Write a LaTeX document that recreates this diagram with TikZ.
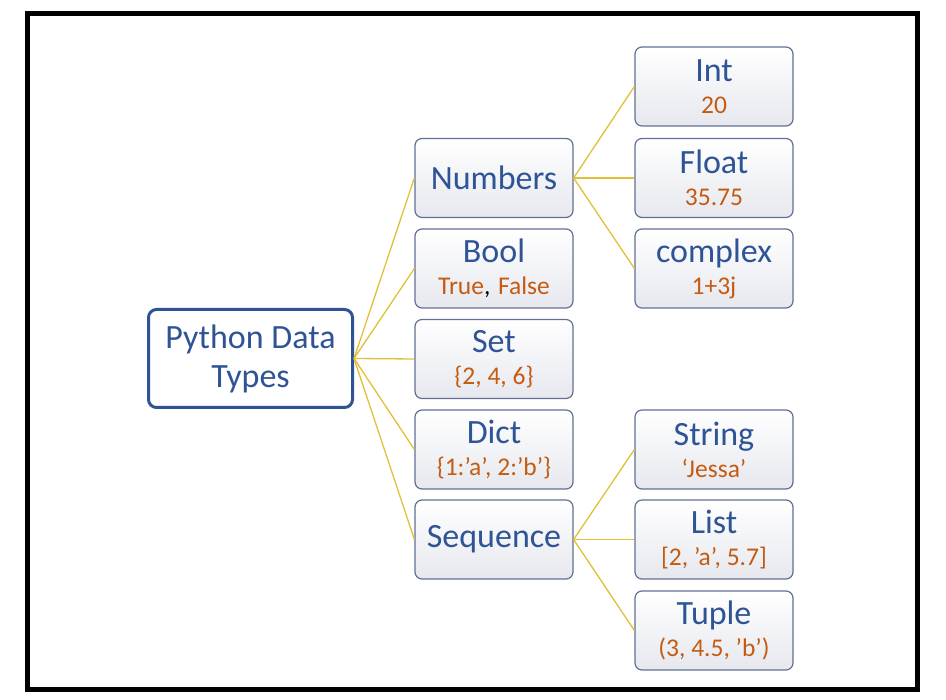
\documentclass[tikz,border=0pt]{standalone}
\usepackage{fontspec}
\setmainfont{Carlito}
\usepackage{tikz}
\definecolor{typeblue}{RGB}{47,84,150}
\definecolor{valorange}{RGB}{197,90,17}
\definecolor{linkgold}{RGB}{225,192,55}
\definecolor{boxline}{RGB}{98,112,150}
\definecolor{boxshade}{RGB}{230,232,238}
\newcommand{\tname}[1]{{\color{typeblue}#1}}
\newcommand{\tval}[1]{{\fontsize{25.5}{31}\selectfont\color{valorange}#1}}
\tikzset{
  typebox/.style={draw=boxline, line width=1.2pt, rounded corners=7pt,
    top color=white, middle color=white, bottom color=boxshade,
    minimum width=158pt, minimum height=79pt, align=center, inner sep=0pt,
    font=\fontsize{34}{32}\selectfont},
  rootbox/.style={draw=typeblue, line width=3pt, rounded corners=8pt,
    fill=white, minimum width=204pt, minimum height=98pt, align=center,
    inner sep=0pt, font=\fontsize{34}{39}\selectfont},
  link/.style={draw=linkgold, line width=1.3pt}
}
\begin{document}
\begin{tikzpicture}[x=1pt,y=-1pt]
\useasboundingbox (0,0) rectangle (946,700);
% frame:
\draw[line width=5pt] (27.5,13.5) rectangle (917.5,689.5);
% root:
\node[rootbox] (root) at (250.5,358.5) {\tname{Python Data}\\\tname{Types}};
% middle column:
\node[typebox] (numbers) at (494,178) {\tname{Numbers}};
\node[typebox] (bool) at (494,268.5) {\tname{Bool}\\\tval{True}{\fontsize{25.5}{31}\selectfont,} \tval{False}};
\node[typebox] (set) at (494,359) {\tname{Set}\\\tval{\{2, 4, 6\}}};
\node[typebox] (dict) at (494,449.5) {\tname{Dict}\\\tval{\{1:’a’, 2:’b’\}}};
\node[typebox] (sequence) at (494,539.5) {\tname{Sequence}};
% right column:
\node[typebox] (int) at (714,86.5) {\tname{Int}\\\tval{20}};
\node[typebox] (float) at (714,178) {\tname{Float}\\\tval{35.75}};
\node[typebox] (complex) at (714,268.5) {\tname{complex}\\\tval{1+3j}};
\node[typebox] (string) at (714,449.5) {\tname{String}\\\tval{‘Jessa’}};
\node[typebox] (list) at (714,539.5) {\tname{List}\\\tval{[2, ’a’, 5.7]}};
\node[typebox] (tuple) at (714,630.5) {\tname{Tuple}\\\tval{(3, 4.5, ’b’)}};
% links:
\foreach \m in {numbers,bool,set,dict,sequence}
  \path[link] (root.east) -- (\m.west);
\foreach \r in {int,float,complex}
  \path[link] (numbers.east) -- (\r.west);
\foreach \r in {string,list,tuple}
  \path[link] (sequence.east) -- (\r.west);
\end{tikzpicture}
\end{document}
